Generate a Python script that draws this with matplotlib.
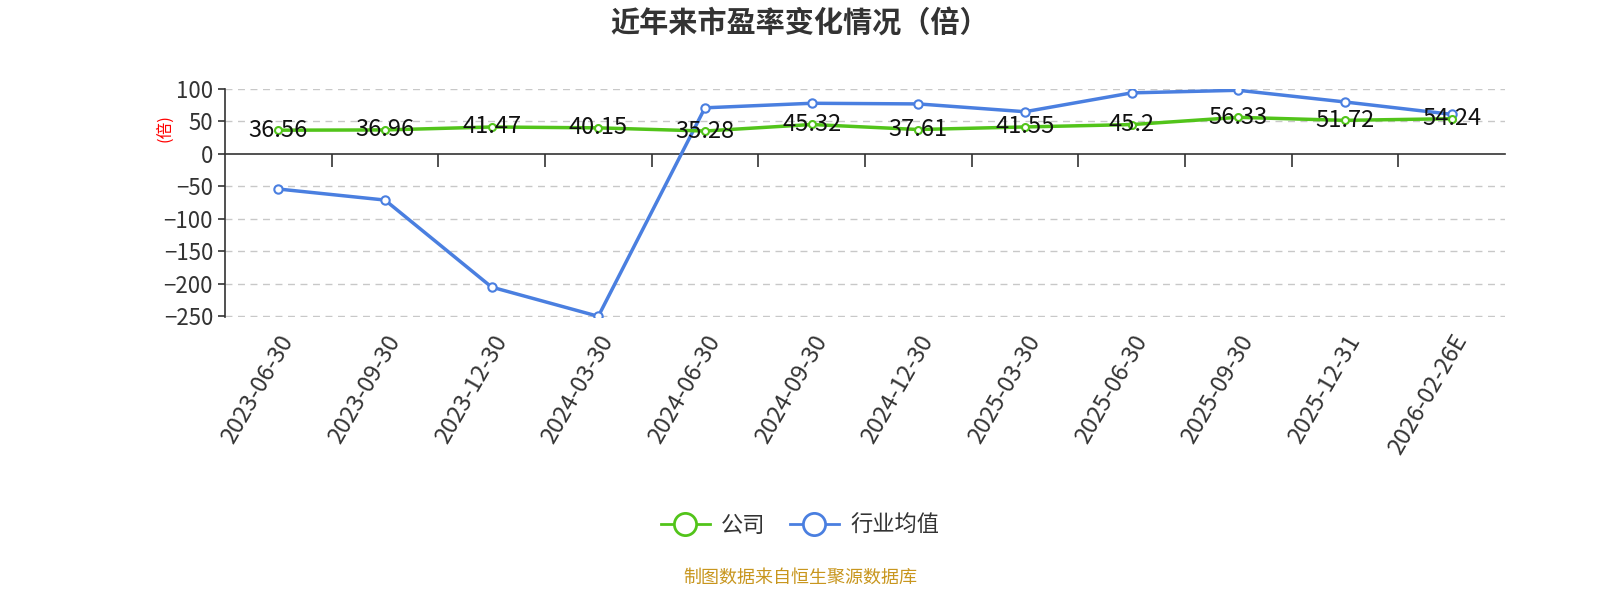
import matplotlib.pyplot as plt
from matplotlib.lines import Line2D

plt.rcParams['font.family'] = ['Noto Sans CJK SC', 'DejaVu Sans']

dates = ['2023-06-30', '2023-09-30', '2023-12-30', '2024-03-30', '2024-06-30', '2024-09-30',
         '2024-12-30', '2025-03-30', '2025-06-30', '2025-09-30', '2025-12-31', '2026-02-26E']
company = [36.56, 36.96, 41.47, 40.15, 35.28, 45.32, 37.61, 41.55, 45.2, 56.33, 51.72, 54.24]
industry = [-54, -71, -205, -250, 71, 78, 77, 65, 94, 98, 80, 61]
yticks = [100, 50, 0, -50, -100, -150, -200, -250]

green = '#52c41a'
blue = '#4a7fe0'

fig = plt.figure(figsize=(16, 6), dpi=100)
ax = fig.add_axes([0.1406, 0.4717, 0.8, 0.38])

x = list(range(len(dates)))
ax.plot(x, industry, color=blue, lw=2.5, marker='o', ms=6, mfc='white', mec=blue, mew=1.5, zorder=3)
ax.plot(x, company, color=green, lw=2.5, marker='o', ms=5, mfc='white', mec=green, mew=1.5, zorder=4)
for xi, v in zip(x, company):
    ax.text(xi, v, f'{v:g}', ha='center', va='center', fontsize=17, color='#111', zorder=5)

ax.set_xlim(-0.5, len(dates) - 0.5)
ax.set_ylim(-251, 100)
ax.set_yticks(yticks)
ax.tick_params(axis='y', labelsize=16, colors='#333', length=5, width=1.2)
for t in yticks:
    if t != 0:
        ax.axhline(t, color='#c8c8c8', lw=1, ls=(0, (5, 4)), zorder=1)

ax.spines['top'].set_visible(False)
ax.spines['right'].set_visible(False)
ax.spines['left'].set_color('#333')
ax.spines['left'].set_linewidth(1.2)
ax.spines['bottom'].set_position(('data', 0))
ax.spines['bottom'].set_color('#333')
ax.spines['bottom'].set_linewidth(1.2)
ax.set_xticks([i - 0.5 for i in range(1, len(dates))], minor=False)
ax.tick_params(axis='x', direction='out', length=9, width=1.2, colors='#333', labelbottom=False)

sec = ax.secondary_xaxis(0)
sec.spines['bottom'].set_visible(False)
sec.set_xticks(x)
sec.set_xticklabels(dates, rotation=60, ha='right', va='top', rotation_mode='anchor')
sec.tick_params(length=0, labelsize=17, colors='#333', pad=10)

ax.text(-0.047, 0.83, '(倍)', transform=ax.transAxes, rotation=90, color='red',
        fontsize=12, ha='center', va='center')

fig.text(0.5, 0.962, '近年来市盈率变化情况（倍）', ha='center', va='center',
         fontsize=21, fontweight='bold', color='#333')

handles = [Line2D([], [], color=green, lw=2, marker='o', ms=16, mfc='white', mec=green, mew=2),
           Line2D([], [], color=blue, lw=2, marker='o', ms=16, mfc='white', mec=blue, mew=2)]
fig.legend(handles, ['公司', '行业均值'], loc='center', bbox_to_anchor=(0.5, 0.125), ncol=2,
           frameon=False, fontsize=16, handlelength=2.2, columnspacing=1.1, handletextpad=0.5,
           labelcolor='#333')

fig.text(0.5, 0.037, '制图数据来自恒生聚源数据库', ha='center', va='center',
         fontsize=13, color='#c8961e')

fig.savefig('out.png', dpi=100)
